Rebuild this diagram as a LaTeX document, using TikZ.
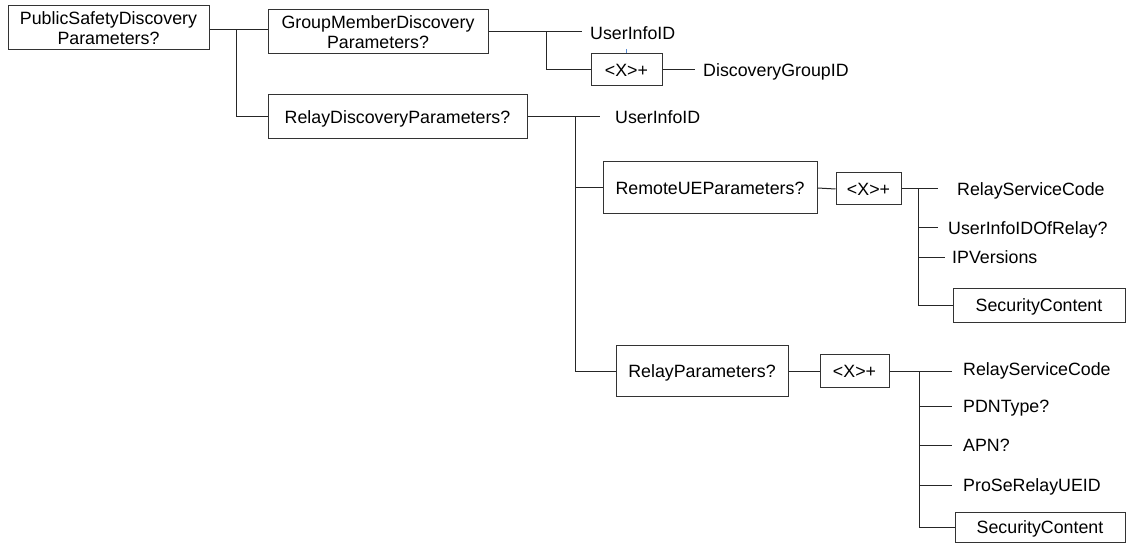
\documentclass[tikz,border=0pt]{standalone}
\usepackage{fontspec}
\setmainfont{Liberation Sans}
\begin{document}
\begin{tikzpicture}[x=1pt,y=-1pt,
  every node/.style={font=\fontsize{17.8}{20}\selectfont},
  conn/.style={draw=black!85,line width=1pt},
  box/.style={draw=black!80,line width=1pt,inner sep=0pt,align=center,fill=white},
  boxone/.style={box,text height=12.7pt,text depth=0pt},
  lbl/.style={anchor=west,inner sep=0pt,text height=12.7pt,text depth=0pt}]
\useasboundingbox[fill=white] (0,0) rectangle (1126,545);

% boxes
\node[box,minimum width=201pt,minimum height=44pt] (psd) at (108.5,28) {PublicSafetyDiscovery\\Parameters?};
\node[box,minimum width=220pt,minimum height=44pt] (gmd) at (378,32) {GroupMemberDiscovery\\Parameters?};
\node[boxone,minimum width=259pt,minimum height=44pt] (rdp) at (397.5,117) {RelayDiscoveryParameters?};
\node[boxone,minimum width=71pt,minimum height=32pt] (xa) at (626.5,70) {<X>+};
\node[boxone,minimum width=214pt,minimum height=52pt] (rue) at (710,188) {RemoteUEParameters?};
\node[boxone,minimum width=65pt,minimum height=32pt] (xb) at (868.5,189) {<X>+};
\node[boxone,minimum width=172pt,minimum height=34pt] (seca) at (1039,305) {SecurityContent};
\node[boxone,minimum width=172pt,minimum height=51pt] (rp) at (702,371) {RelayParameters?};
\node[boxone,minimum width=69pt,minimum height=33pt] (xc) at (854.5,371) {<X>+};
\node[boxone,minimum width=170pt,minimum height=30pt] (secb) at (1040,527) {SecurityContent};

% labels
\node[lbl] (uia) at (590,33) {UserInfoID};
\node[lbl] (dgi) at (703,70) {DiscoveryGroupID};
\node[lbl] (uib) at (615,117) {UserInfoID};
\node[lbl] (rsca) at (957,189) {RelayServiceCode};
\node[lbl] (uir) at (948,228) {UserInfoIDOfRelay?};
\node[lbl] (ipv) at (952,257) {IPVersions};
\node[lbl] (rscb) at (963,369) {RelayServiceCode};
\node[lbl] (pdn) at (963,406) {PDNType?};
\node[lbl] (apn) at (963,445) {APN?};
\node[lbl] (prose) at (963,485) {ProSeRelayUEID};

% junction coordinates
\coordinate (ja) at (236,29.5);
\coordinate (jb) at (546,32);
\coordinate (ea) at (582,32);
\coordinate (eb) at (695,70);
\coordinate (jc) at (575,117);
\coordinate (ec) at (600,117);
\coordinate (jd) at (918,189);
\coordinate (je) at (919,371);

% connectors
\draw[conn] (psd.east |- ja) -- (ja) -- (ja -| gmd.west);
\draw[conn] (ja) |- (rdp.west);
\draw[conn] (gmd.east) -- (ea);
\draw[conn] (jb) |- (xa.west);
\draw[conn] (xa.east) -- (eb);
\draw[conn] (rdp.east) -- (ec);
\draw[conn] (jc) |- (rue.west);
\draw[conn] (jc) |- (rp.west);
\draw[conn] (rue.east) -- (xb.west);
\draw[conn] (xb.east) -- (938,189);
\draw[conn] (jd) |- (938,228);
\draw[conn] (jd) |- (945,257);
\draw[conn] (jd) |- (seca.west);
\draw[conn] (rp.east) -- (xc.west);
\draw[conn] (xc.east) -- (952,371);
\draw[conn] (je) |- (952,406);
\draw[conn] (je) |- (952,445);
\draw[conn] (je) |- (952,485);
\draw[conn] (je) |- (secb.west);
% small blue tick
\draw[line width=0.8pt,draw={rgb,255:red,90;green,140;blue,210}] (626,49) -- (626,53.5);
\end{tikzpicture}
\end{document}
